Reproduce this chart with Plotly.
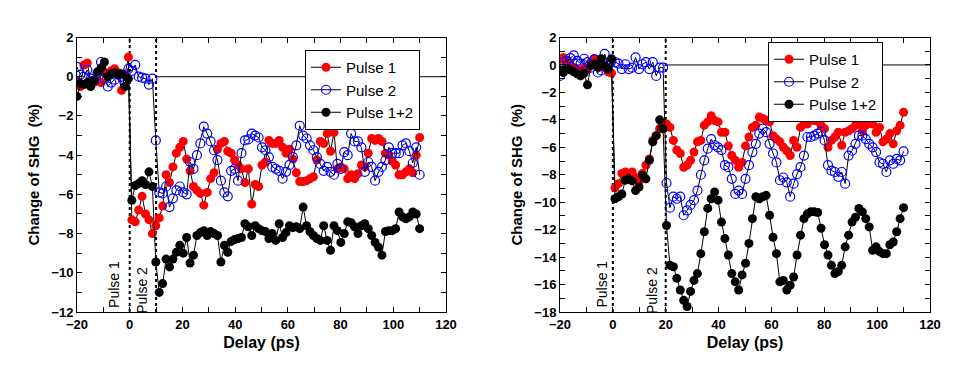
import plotly.graph_objects as go

# ---------------- data ----------------
delay_ps = [-20.0, -18.7, -17.4, -16.1, -14.8, -13.5, -12.2, -10.9, -9.6, -8.3,
            -7.0, -5.7, -4.4, -3.1, -1.8, -0.5, 0.8, 2.1, 3.4, 4.7,
            6.0, 7.3, 8.6, 9.9, 11.2, 12.5, 13.8, 15.1, 16.4, 17.7,
            19.0, 20.3, 21.6, 22.9, 24.2, 25.5, 26.8, 28.1, 29.4, 30.7,
            32.0, 33.3, 34.6, 35.9, 37.2, 38.5, 39.8, 41.1, 42.4, 43.7,
            45.0, 46.3, 47.6, 48.9, 50.2, 51.5, 52.8, 54.1, 55.4, 56.7,
            58.0, 59.3, 60.6, 61.9, 63.2, 64.5, 65.8, 67.1, 68.4, 69.7,
            71.0, 72.3, 73.6, 74.9, 76.2, 77.5, 78.8, 80.1, 81.4, 82.7,
            84.0, 85.3, 86.6, 87.9, 89.2, 90.5, 91.8, 93.1, 94.4, 95.7,
            97.0, 98.3, 99.6, 100.9, 102.2, 103.5, 104.8, 106.1, 107.4, 108.7,
            110.0]

# Left panel (pulses at 0 and 10 ps)
left_pulse1 = [-0.2, -0.5, 0.6, 0.7, -0.2, -0.3, -0.2, -0.3, 0.2, 0.1,
               0.3, 0.4, 0.2, -0.7, 0.1, 1.0, -7.3, -7.4, -6.8, -6.1,
               -7.0, -7.3, -8.0, -7.6, -7.2, -6.6, -5.0, -5.4, -4.6, -3.9,
               -3.6, -3.3, -4.2, -4.8, -5.6, -5.8, -5.95, -6.55, -5.9, -5.2,
               -4.9, -3.7, -3.4, -3.3, -3.8, -3.9, -4.25, -4.5, -4.7, -5.4,
               -4.7, -6.5, -5.5, -5.6, -4.5, -4.35, -3.25, -3.4, -3.4, -3.25,
               -3.6, -3.9, -3.7, -4.2, -4.9, -5.35, -5.35, -5.3, -5.2, -5.1,
               -4.25, -3.3, -3.4, -2.9, -3.8, -2.85, -4.7, -4.6, -4.7, -5.2,
               -5.0, -5.2, -4.95, -4.5, -4.6, -3.9, -3.15, -3.25, -3.15, -3.3,
               -3.9, -4.0, -4.3, -4.5, -5.0, -5.0, -4.85, -4.7, -4.9, -4.0,
               -3.1]
left_pulse2 = [0.5, 0.1, 0.0, 0.35, -0.1, -0.2, 0.2, 0.75, -0.1, -0.5,
               -0.3, -0.15, 0.1, 0.0, -0.2, 0.4, 0.3, 0.6, 0.0, -0.05,
               -0.1, -0.4, -0.1, -3.25, -5.9, -5.95, -5.6, -6.65, -6.2, -5.8,
               -5.6, -5.9, -6.0, -4.35, -4.7, -4.0, -3.4, -2.55, -2.9, -3.3,
               -3.75, -4.25, -5.3, -5.9, -6.1, -4.8, -4.7, -5.3, -3.9, -3.25,
               -3.2, -2.9, -3.0, -3.1, -3.6, -3.75, -4.1, -4.6, -4.7, -4.8,
               -5.2, -4.85, -4.5, -4.1, -3.5, -2.5, -3.0, -3.15, -3.5, -3.75,
               -4.1, -4.45, -4.8, -4.6, -4.85, -5.0, -4.45, -4.7, -3.85, -4.0,
               -2.9, -3.3, -3.3, -3.6, -4.85, -4.35, -4.6, -5.3, -4.85, -4.6,
               -4.25, -3.6, -3.9, -3.9, -3.9, -3.5, -3.4, -3.8, -4.4, -3.6,
               -5.0]
left_pulse12 = [-1.0, -0.35, -0.4, -0.3, -0.5, -0.2, 0.25, 0.45, 0.75, 0.0,
                0.15, 0.2, 0.1, 0.15, -0.5, -0.1, -6.3, -5.55, -5.45, -5.3,
                -5.5, -4.85, -5.6, -9.45, -11.0, -10.55, -9.3, -9.7, -9.3, -8.95,
                -8.6, -9.0, -8.2, -9.5, -9.1, -8.1, -7.95, -7.85, -8.1, -7.9,
                -8.0, -8.1, -9.45, -8.6, -8.95, -8.4, -8.3, -8.25, -8.2, -7.5,
                -7.65, -8.1, -7.6, -7.75, -7.85, -7.9, -8.25, -8.0, -8.35, -7.5,
                -8.2, -7.95, -7.6, -7.7, -7.65, -7.75, -6.65, -7.6, -7.9, -8.1,
                -8.25, -8.35, -7.6, -8.35, -8.85, -7.6, -7.85, -8.45, -8.0, -7.4,
                -7.45, -7.65, -8.0, -7.6, -7.5, -7.75, -8.1, -8.45, -8.7, -9.1,
                -7.9, -7.85, -7.85, -7.75, -6.9, -7.15, -7.25, -7.15, -6.9, -7.0,
                -7.75]

# Right panel (pulses at 0 and 20 ps)
right_pulse1 = [0.4, 0.55, 0.3, 0.0, -0.2, -0.3, -0.4, -0.2, -0.3, 0.2,
                0.45, 0.2, 0.0, -0.2, -0.5, -0.6, -8.95, -8.65, -7.9, -7.8,
                -7.9, -7.8, -8.2, -8.5, -7.9, -7.3, -6.85, -5.5, -5.15, -4.65,
                -4.3, -4.3, -4.55, -5.5, -6.2, -6.45, -7.45, -7.3, -6.95, -6.35,
                -5.6, -5.5, -4.4, -4.15, -3.7, -4.05, -4.15, -4.9, -4.9, -5.9,
                -6.6, -6.95, -7.45, -7.1, -5.9, -5.25, -4.55, -4.4, -3.8, -3.9,
                -4.05, -4.15, -5.15, -5.4, -5.6, -6.0, -6.25, -6.6, -5.5, -6.0,
                -4.55, -4.3, -4.3, -3.9, -4.05, -4.1, -4.4, -4.65, -6.0, -5.5,
                -5.25, -4.9, -5.85, -4.9, -4.8, -4.65, -4.4, -4.3, -4.8, -4.4,
                -4.05, -4.3, -4.9, -4.55, -5.6, -5.4, -5.0, -5.75, -4.8, -4.4,
                -3.45]
right_pulse2 = [-0.8, 0.2, 0.3, 0.5, 0.7, 0.3, 0.1, 0.45, 0.2, -0.2,
                0.4, -0.55, -0.4, 0.8, -0.05, 0.3, 0.2, 0.1, -0.3, 0.05,
                -0.3, -0.2, 0.55, -0.3, 0.05, 0.2, -0.3, 0.2, -0.8, -0.2,
                -0.2, -8.6, -10.4, -9.6, -9.75, -9.6, -10.95, -10.6, -10.2, -9.85,
                -9.15, -8.0, -6.95, -6.1, -5.4, -5.85, -6.0, -6.2, -7.3, -7.45,
                -8.3, -9.4, -9.15, -9.4, -8.3, -7.3, -6.35, -5.75, -5.0, -4.65,
                -4.9, -5.75, -6.45, -7.1, -8.4, -8.2, -8.55, -9.6, -8.65, -7.95,
                -7.45, -6.6, -5.25, -5.25, -5.15, -5.0, -4.85, -5.5, -7.3, -7.7,
                -7.8, -8.15, -7.8, -8.65, -6.6, -6.25, -5.75, -5.15, -5.15, -5.4,
                -5.75, -6.0, -6.35, -7.1, -7.2, -7.8, -6.95, -7.2, -6.85, -6.95,
                -6.3]
right_pulse12 = [-0.4, -0.55, -0.25, -0.35, -0.5, -0.65, -0.8, -0.6, -1.45, -0.05,
                 0.05, -0.15, 0.45, -0.05, -0.3, 0.45, -9.75, -9.6, -9.4, -8.4,
                 -8.3, -8.45, -9.15, -8.9, -8.05, -8.3, -6.95, -5.6, -5.15, -4.0,
                 -4.65, -11.7, -14.6, -14.7, -15.55, -16.4, -17.15, -17.6, -16.5, -15.7,
                 -15.2, -13.75, -12.15, -10.45, -9.75, -9.25, -9.85, -11.45, -12.65, -13.85,
                 -15.2, -15.8, -16.4, -15.3, -14.45, -13.0, -11.2, -9.6, -9.75, -9.6,
                 -9.5, -10.95, -12.55, -13.75, -15.8, -15.7, -16.4, -16.05, -15.45, -13.85,
                 -12.4, -11.2, -10.85, -10.7, -10.7, -10.75, -11.9, -13.1, -13.85, -14.6,
                 -15.2, -15.05, -14.6, -13.25, -12.4, -11.45, -11.1, -10.45, -10.7, -11.2,
                 -11.8, -13.5, -13.25, -13.6, -13.75, -13.75, -13.1, -12.9, -12.15, -11.2,
                 -10.4]

series_names = ["Pulse 1", "Pulse 2", "Pulse 1+2"]
left_pulse_times = [0, 10]
right_pulse_times = [0, 20]
left_baseline_x = [10, 120]
right_baseline_x = [20, 120]
baseline_y = [0, 0]
x_ticks = [-20, 0, 20, 40, 60, 80, 100, 120]
left_y_ticks = [-12, -10, -8, -6, -4, -2, 0, 2]
right_y_ticks = [-18, -16, -14, -12, -10, -8, -6, -4, -2, 0, 2]

FONT = "Liberation Sans, Arial, sans-serif"

# page has an 8px body margin; figure is sized to fill the rest of the window
W, H, OFF = 961, 382, 8

def dx(px0, px1):
    return [(px0 - OFF) / W, (px1 - OFF) / W]

def dy(top, bottom):
    return [(H - (bottom - OFF)) / H, (H - (top - OFF)) / H]

styles = [
    dict(symbol="circle", size=9, color="#ff0000"),
    dict(symbol="circle-open", size=9, color="#0000ff", line=dict(width=1.2, color="#0000ff")),
    dict(symbol="circle", size=9, color="#000000"),
]

fig = go.Figure()

def add_panel(xa, ya, series, legend, baseline_x, pulses, yrange):
    fig.add_trace(go.Scatter(x=baseline_x, y=baseline_y, mode="lines",
                             line=dict(color="black", width=1), showlegend=False,
                             hoverinfo="skip", xaxis=xa, yaxis=ya))
    for p in pulses:
        fig.add_trace(go.Scatter(x=[p, p], y=yrange, mode="lines",
                                 line=dict(color="black", width=2, dash="dot"),
                                 showlegend=False, hoverinfo="skip", xaxis=xa, yaxis=ya))
    for name, vals, st in zip(series_names, series, styles):
        fig.add_trace(go.Scatter(x=delay_ps, y=vals, name=name, mode="lines+markers",
                                 line=dict(color="black", width=1), marker=st,
                                 legend=legend, xaxis=xa, yaxis=ya))

add_panel("x", "y", [left_pulse1, left_pulse2, left_pulse12], "legend",
          left_baseline_x, left_pulse_times, [-12, 2])
add_panel("x2", "y2", [right_pulse1, right_pulse2, right_pulse12], "legend2",
          right_baseline_x, right_pulse_times, [-18, 2])

tickfont = dict(family=FONT, size=13, color="black", weight="bold")
titlefont = dict(family=FONT, size=16, color="black", weight="bold")

def xaxis(domain, anchor):
    return dict(domain=domain, anchor=anchor, range=[-20, 120], tickvals=x_ticks,
                ticks="inside", ticklen=5, tickcolor="black", showline=True,
                linecolor="black", linewidth=1, mirror="ticks", showgrid=False,
                zeroline=False, tickfont=tickfont, automargin=False,
                minor=dict(dtick=10, tick0=0, ticks="inside", ticklen=5, tickcolor="black"),
                title=dict(text="Delay (ps)", font=titlefont, standoff=6))

def yaxis(domain, anchor, rng, ticks):
    return dict(domain=domain, anchor=anchor, range=rng, tickvals=ticks,
                ticks="inside", ticklen=5, tickcolor="black", showline=True,
                linecolor="black", linewidth=1, mirror="ticks", showgrid=False,
                zeroline=False, tickfont=tickfont, automargin=False,
                minor=dict(dtick=1, tick0=0, ticks="inside", ticklen=5, tickcolor="black"),
                title=dict(text="Change of SHG\u00a0 (%)",
                           font=dict(family=FONT, size=15, color="black", weight="bold"),
                           standoff=8))

ydom = dy(37.5, 312)
legend_common = dict(bgcolor="white", bordercolor="black", borderwidth=1,
                     font=dict(family=FONT, size=15, color="black"),
                     xanchor="left", yanchor="top", tracegroupgap=0)

ann_font = dict(family=FONT, size=14, color="black")

fig.update_layout(
    width=W, height=H,
    margin=dict(l=0, r=0, t=0, b=0, autoexpand=False),
    paper_bgcolor="white", plot_bgcolor="white",
    font=dict(family=FONT, color="black"),
    xaxis=xaxis(dx(77, 446), "y"),
    yaxis=yaxis(ydom, "x", [-12, 2], left_y_ticks),
    xaxis2=xaxis(dx(560, 930), "y2"),
    yaxis2=yaxis(ydom, "x2", [-18, 2], right_y_ticks),
    legend=dict(x=(305 - OFF) / W, y=1 - (50 - OFF) / H, **legend_common),
    legend2=dict(x=(768 - OFF) / W, y=1 - (42 - OFF) / H, **legend_common),
    annotations=[
        dict(text="Pulse 1", x=-6.2, y=-10.6, xref="x", yref="y", textangle=-90,
             showarrow=False, font=ann_font),
        dict(text="Pulse 2", x=4.8, y=-10.9, xref="x", yref="y", textangle=-90,
             showarrow=False, font=ann_font),
        dict(text="Pulse 1", x=-4.1, y=-16.0, xref="x2", yref="y2", textangle=-90,
             showarrow=False, font=ann_font),
        dict(text="Pulse 2", x=14.8, y=-16.4, xref="x2", yref="y2", textangle=-90,
             showarrow=False, font=ann_font),
    ],
    showlegend=True,
)

fig.write_html("out.html")
